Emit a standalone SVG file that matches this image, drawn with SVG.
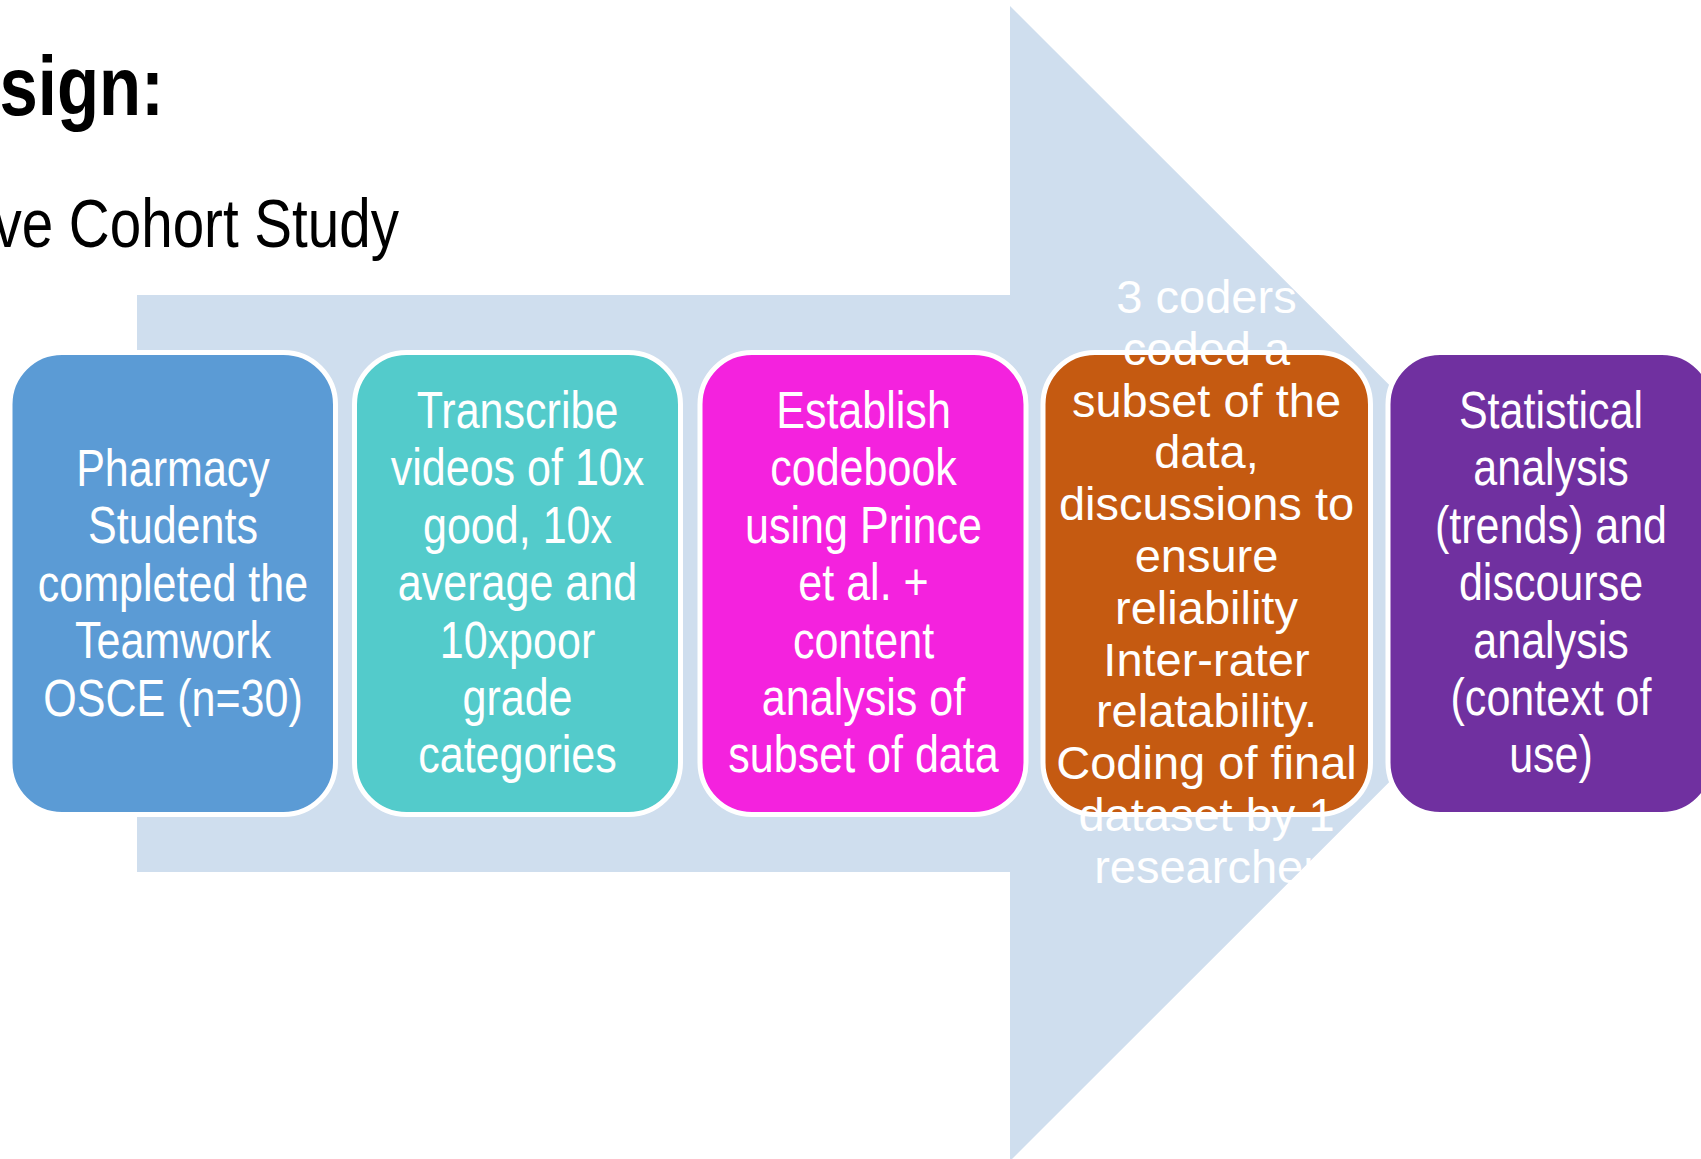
<svg xmlns="http://www.w3.org/2000/svg" width="1701" height="1159" viewBox="0 0 1701 1159">
<style>
.bg{fill:#FFFFFF}
.arrow{fill:#CFDEEE}
.box{stroke:#FFFFFF;stroke-width:5}
.t{font-family:"Liberation Sans",Arial,sans-serif;fill:#FFFFFF;text-anchor:middle}
.tn{font-size:52.5px}
.tw{font-size:47px}
.title{font-family:"Liberation Sans",Arial,sans-serif;fill:#000000;text-anchor:end}
</style>
<rect class="bg" x="0" y="0" width="1701" height="1159"/>
<g id="title">
  <text class="title" transform="translate(164 0) scale(0.82 1)" x="0" y="115" font-size="84" font-weight="bold">sign:</text>
  <text class="title" transform="translate(399 0) scale(0.82 1)" x="0" y="247" font-size="69">ve Cohort Study</text>
</g>
<g id="connectors">
  <path id="process-arrow" class="arrow" d="M137,295 L1010,295 L1010,6 L1588,583.5 L1010,1161 L1010,872 L137,872 Z"/>
</g>
<g id="node-1">
  <rect class="box" x="10" y="352.5" width="325.5" height="462" rx="52" ry="52" fill="#5B9BD5"/>
  <text class="t tn" transform="translate(173 0) scale(0.82 1)"><tspan x="0" y="486">Pharmacy</tspan><tspan x="0" y="543.4">Students</tspan><tspan x="0" y="600.8">completed the</tspan><tspan x="0" y="658.2">Teamwork</tspan><tspan x="0" y="715.6">OSCE (n=30)</tspan></text>
</g>
<g id="node-2">
  <rect class="box" x="354.5" y="352.5" width="326" height="462" rx="52" ry="52" fill="#53CBCB"/>
  <text class="t tn" transform="translate(517.5 0) scale(0.82 1)"><tspan x="0" y="428">Transcribe</tspan><tspan x="0" y="485.4">videos of 10x</tspan><tspan x="0" y="542.8">good, 10x</tspan><tspan x="0" y="600.2">average and</tspan><tspan x="0" y="657.6">10xpoor</tspan><tspan x="0" y="715">grade</tspan><tspan x="0" y="772.4">categories</tspan></text>
</g>
<g id="node-3">
  <rect class="box" x="700" y="352.5" width="326" height="462" rx="52" ry="52" fill="#F422DE"/>
  <text class="t tn" transform="translate(863.5 0) scale(0.82 1)"><tspan x="0" y="428">Establish</tspan><tspan x="0" y="485.4">codebook</tspan><tspan x="0" y="542.8">using Prince</tspan><tspan x="0" y="600.2">et al. +</tspan><tspan x="0" y="657.6">content</tspan><tspan x="0" y="715">analysis of</tspan><tspan x="0" y="772.4">subset of data</tspan></text>
</g>
<g id="node-4">
  <rect class="box" x="1043" y="352.5" width="327.5" height="462" rx="52" ry="52" fill="#C55A11"/>
  <text class="t tw"><tspan x="1206.5" y="313">3 coders</tspan><tspan x="1206.5" y="364.8">coded a</tspan><tspan x="1206.5" y="416.6">subset of the</tspan><tspan x="1206.5" y="468.4">data,</tspan><tspan x="1206.5" y="520.2">discussions to</tspan><tspan x="1206.5" y="572">ensure</tspan><tspan x="1206.5" y="623.8">reliability</tspan><tspan x="1206.5" y="675.6">Inter-rater</tspan><tspan x="1206.5" y="727.4">relatability.</tspan><tspan x="1206.5" y="779.2">Coding of final</tspan><tspan x="1206.5" y="831">dataset by 1</tspan><tspan x="1206.5" y="882.8">researcher</tspan></text>
</g>
<g id="node-5">
  <rect class="box" x="1388" y="352.5" width="326" height="462" rx="52" ry="52" fill="#7030A0"/>
  <text class="t tn" transform="translate(1551 0) scale(0.82 1)"><tspan x="0" y="428">Statistical</tspan><tspan x="0" y="485.4">analysis</tspan><tspan x="0" y="542.8">(trends) and</tspan><tspan x="0" y="600.2">discourse</tspan><tspan x="0" y="657.6">analysis</tspan><tspan x="0" y="715">(context of</tspan><tspan x="0" y="772.4">use)</tspan></text>
</g>
</svg>
